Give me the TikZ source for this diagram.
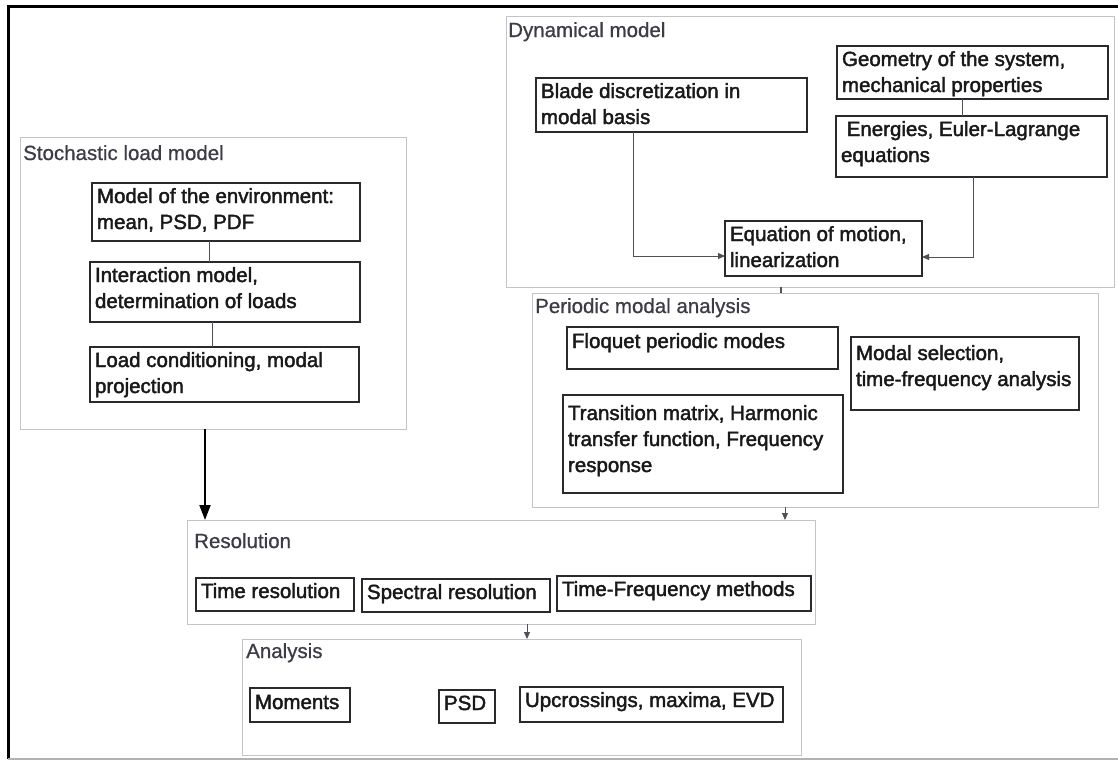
\documentclass[tikz,border=0pt]{standalone}
\usepackage{fontspec}
\setmainfont{Liberation Sans}
\newfontfamily\boxfont{Liberation Sans}[FakeBold=2.0]
\newfontfamily\ttlfont{Liberation Sans}[FakeBold=0.8]
\usetikzlibrary{arrows.meta}
\definecolor{boxline}{HTML}{2A2A2E}
\definecolor{grpline}{HTML}{C4C4C8}
\definecolor{ttl}{HTML}{3C3C46}
\definecolor{conn}{HTML}{505058}
\newcommand{\bt}[4][20pt]{\parbox[c][#3][t]{#2}{\leftskip=5pt\rightskip=0pt plus 1fil\rule{0pt}{#1}#4}}
\begin{document}
\begin{tikzpicture}[x=1pt,y=-1pt,
  box/.style={draw=boxline,line width=1.5pt,inner sep=0pt,outer sep=0pt,anchor=north west,text=black!90,font=\boxfont\fontsize{20.5}{26}\selectfont},
  group/.style={draw=grpline,line width=1pt,inner sep=0pt,outer sep=0pt,anchor=north west},
  ttlnode/.style={anchor=base west,inner sep=0pt,text=ttl,font=\ttlfont\fontsize{20.5}{26}\selectfont},
  conline/.style={draw=conn,line width=1pt},
  smallarr/.style={draw=conn,line width=1pt,-{Triangle[length=7pt,width=6pt]}},
  bigarr/.style={draw=black,line width=2pt,-{Triangle[length=15pt,width=11pt]}}]
\useasboundingbox (0,0) rectangle (1118,761);
% outer frame
\draw[line width=3pt,black] (1118,6) -- (8,6) -- (8,759);
\draw[line width=2pt,black!30] (8,759) -- (1118,759);

% groups
\node[group,minimum width=386pt,minimum height=292pt] (stoch) at (20,137) {};
\node[group,minimum width=608pt,minimum height=271pt] (dyn) at (506,16) {};
\node[group,minimum width=566pt,minimum height=214pt] (per) at (532,293) {};
\node[group,minimum width=628pt,minimum height=104pt] (res) at (187,520) {};
\node[group,minimum width=559pt,minimum height=116pt] (ana) at (242,639) {};

% titles
\node[ttlnode] (tstoch) at (23,160) {Stochastic load model};
\node[ttlnode] (tdyn) at (508,37) {Dynamical model};
\node[ttlnode] (tper) at (535,313) {Periodic modal analysis};
\node[ttlnode] (tres) at (194,548) {Resolution};
\node[ttlnode] (tana) at (246,658) {Analysis};

% stochastic boxes
\node[box] (b1) at (92,183) {\bt{268pt}{58pt}{Model of the environment:\\mean, PSD, PDF}};
\node[box] (b2) at (90,262) {\bt{270pt}{60pt}{Interaction model,\\determination of loads}};
\node[box] (b3) at (90,347) {\bt{269pt}{55pt}{Load conditioning, modal\\projection}};

% dynamical boxes
\node[box] (blade) at (536,78) {\bt{271pt}{54pt}{Blade discretization in\\modal basis}};
\node[box] (geo) at (837,46) {\bt{271pt}{53pt}{Geometry of the system,\\mechanical properties}};
\node[box] (en) at (836,116) {\bt{271pt}{61pt}{\hspace*{5.7pt}Energies, Euler-Lagrange\\equations}};
\node[box] (eq) at (725,221) {\bt{197pt}{55pt}{Equation of motion,\\linearization}};

% periodic boxes
\node[box] (floq) at (567,327) {\bt[21pt]{271pt}{42pt}{Floquet periodic modes}};
\node[box] (modal) at (851,337) {\bt[23pt]{228pt}{73pt}{Modal selection,\\time-frequency analysis}};
\node[box,line width=2.2pt] (trans) at (563,395) {\bt[25pt]{280pt}{98pt}{Transition matrix, Harmonic\\transfer function, Frequency\\response}};

% resolution boxes
\node[box] (tres1) at (196,578) {\bt{158pt}{33pt}{Time resolution}};
\node[box] (spec) at (362,579) {\bt{188pt}{33pt}{Spectral resolution}};
\node[box,line width=1.8pt] (tfm) at (557,576) {\bt{254pt}{35pt}{Time-Frequency methods}};

% analysis boxes
\node[box] (mom) at (250,688) {\bt[21pt]{100pt}{34pt}{Moments}};
\node[box] (psd) at (439,690) {\bt{56pt}{33pt}{PSD}};
\node[box] (up) at (520,687) {\bt{263pt}{35pt}{Upcrossings, maxima, EVD}};

% connectors
\coordinate (k1) at (209,250);
\coordinate (k2) at (212,330);
\draw[conline] (k1 |- b1.south) -- (k1 |- b2.north);
\draw[conline] (k2 |- b2.south) -- (k2 |- b3.north);
\coordinate (k3) at (962,105);
\draw[conline] (k3 |- geo.south) -- (k3 |- en.north);
\coordinate (c1) at (633,256);
\draw[smallarr] (c1 |- blade.south) -- (c1) -- (c1 -| eq.west);
\coordinate (c2) at (973,257);
\draw[smallarr] (c2 |- en.south) -- (c2) -- (c2 -| eq.east);
\coordinate (k4) at (781,290);
\draw[conline,line width=1.5pt] (k4 |- dyn.south) -- (k4 |- per.north);
\coordinate (a1) at (205,470);
\draw[bigarr] (a1 |- stoch.south) -- (a1 |- res.north);
\coordinate (a2) at (785,512);
\draw[smallarr] (a2 |- per.south) -- (a2 |- res.north);
\coordinate (a3) at (527,630);
\draw[smallarr] (a3 |- res.south) -- (a3 |- ana.north);
\end{tikzpicture}
\end{document}
